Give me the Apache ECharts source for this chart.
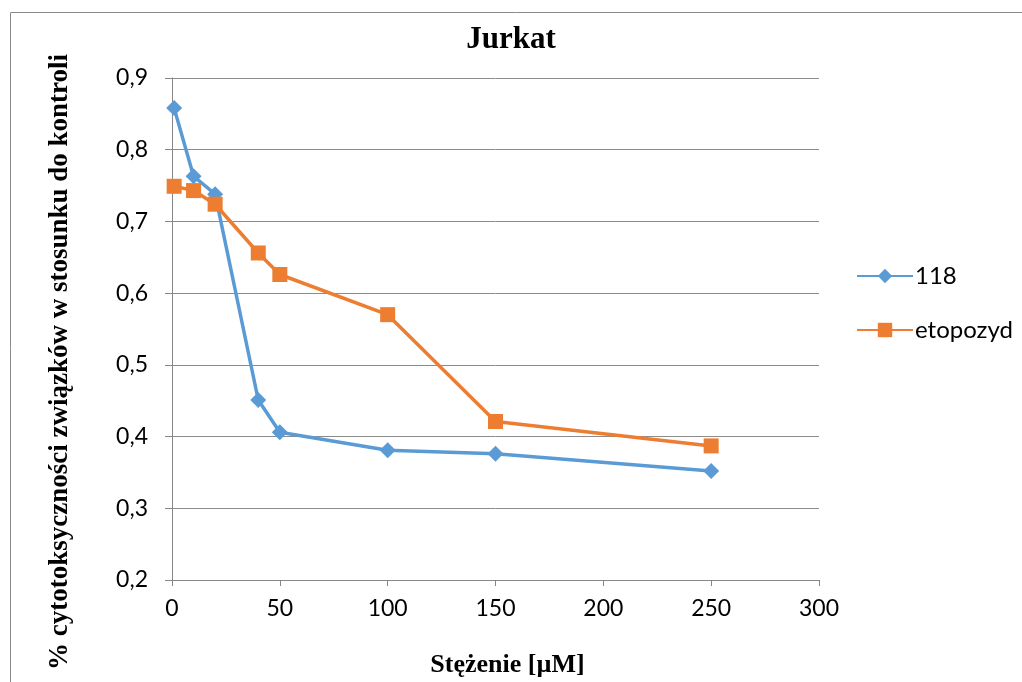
<!DOCTYPE html>
<html><head><meta charset="utf-8">
<script src="https://cdn.jsdelivr.net/npm/echarts@6/dist/echarts.min.js"></script>
<style>html,body{margin:0;padding:0;background:#fff}#c{width:1022px;height:682px}</style>
</head><body><div id="c"></div>
<script>
const xValues = [1, 10, 20, 40, 50, 100, 150, 250];
const series118 = [0.858, 0.763, 0.738, 0.451, 0.406, 0.381, 0.376, 0.352];
const seriesEtopozyd = [0.749, 0.743, 0.724, 0.656, 0.626, 0.570, 0.421, 0.387];
const seriesNames = ['118', 'etopozyd'];
const yTitle = '% cytotoksyczności związków w stosunku do kontroli';

const chart = echarts.init(document.getElementById('c'));
const lab = {fontFamily: 'Lato, "Open Sans", sans-serif', fontSize: 23, color: '#000'};
chart.setOption({
  animation: false,
  graphic: [
    {type: 'rect', shape: {x: 10.5, y: 12.5, width: 1030, height: 700}, style: {fill: 'none', stroke: '#8a8a8a', lineWidth: 1}, z: -1},
    {type: 'text', x: 60, y: 362, rotation: Math.PI / 2,
     style: {text: yTitle, fill: '#000', font: 'bold 27px "Liberation Serif", serif', align: 'center', verticalAlign: 'middle'}}
  ],
  title: {text: 'Jurkat', left: 'center', top: 24, textStyle: {fontFamily: '"Liberation Serif", serif', fontWeight: 'bold', fontSize: 31, color: '#000'}, padding: 0},
  legend: {orient: 'vertical', left: 851, top: 259, itemGap: 30, itemWidth: 56, itemHeight: 18,
    textStyle: {fontFamily: 'Lato, "Open Sans", sans-serif', fontSize: 24, color: '#000', padding: [0, 0, 0, -3]},
    data: seriesNames},
  grid: {left: 172, right: 203, top: 78, bottom: 102, outerBoundsMode: 'none', containLabel: false},
  xAxis: {type: 'value', min: 0, max: 300, interval: 50,
    axisLine: {show: true, lineStyle: {color: '#868686', width: 1}},
    axisTick: {show: true, length: 6, lineStyle: {color: '#868686'}},
    splitLine: {show: false},
    axisLabel: Object.assign({margin: 17}, lab),
    name: 'Stężenie [µM]', nameLocation: 'middle', nameGap: 72,
    nameTextStyle: {fontFamily: '"Liberation Serif", serif', fontWeight: 'bold', fontSize: 26, color: '#000', padding: [0, 0, 0, 24]}},
  yAxis: {type: 'value', min: 0.2, max: 0.9, interval: 0.1,
    axisLine: {show: true, lineStyle: {color: '#868686', width: 1}},
    axisTick: {show: true, length: 7, lineStyle: {color: '#868686'}},
    splitLine: {show: true, lineStyle: {color: '#8c8c8c', width: 1}},
    axisLabel: Object.assign({margin: 24, formatter: v => v.toFixed(1).replace('.', ',')}, lab)},
  series: [
    {name: seriesNames[0], type: 'line', data: xValues.map((x, i) => [x, series118[i]]),
     symbol: 'diamond', symbolSize: 16, color: '#5B9BD5', lineStyle: {width: 3.5, color: '#5B9BD5'}, itemStyle: {color: '#5B9BD5'}},
    {name: seriesNames[1], type: 'line', data: xValues.map((x, i) => [x, seriesEtopozyd[i]]),
     symbol: 'rect', symbolSize: 15, color: '#ED7D31', lineStyle: {width: 3.5, color: '#ED7D31'}, itemStyle: {color: '#ED7D31'}}
  ]
});
</script></body></html>
